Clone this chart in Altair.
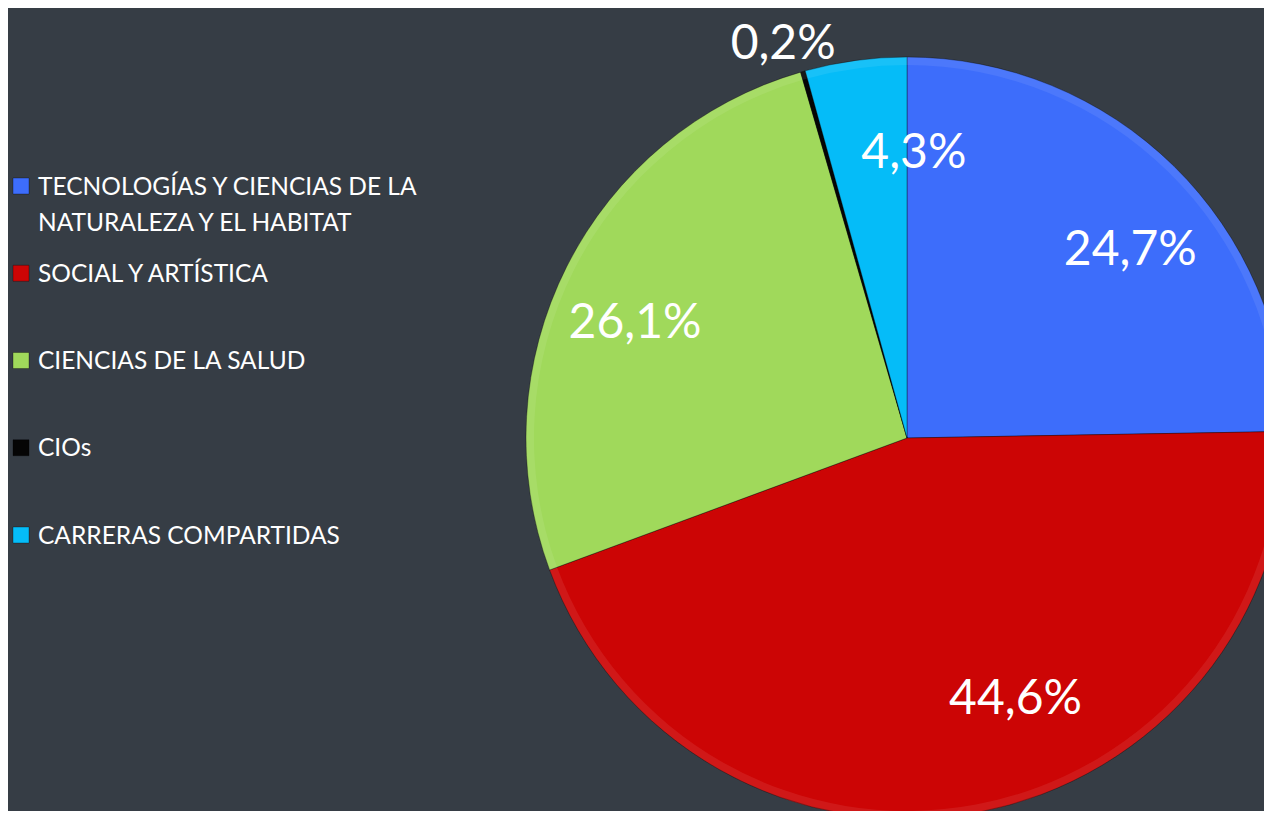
import altair as alt
import pandas as pd

categories = [
    "TECNOLOGÍAS Y CIENCIAS DE LA NATURALEZA Y EL HABITAT",
    "SOCIAL Y ARTÍSTICA",
    "CIENCIAS DE LA SALUD",
    "CIOs",
    "CARRERAS COMPARTIDAS",
]
legend_text = [
    "TECNOLOGÍAS Y CIENCIAS DE LA\nNATURALEZA Y EL HABITAT",
    "SOCIAL Y ARTÍSTICA",
    "CIENCIAS DE LA SALUD",
    "CIOs",
    "CARRERAS COMPARTIDAS",
]
values = [24.7, 44.6, 26.1, 0.2, 4.3]
value_labels = ["24,7%", "44,6%", "26,1%", "0,2%", "4,3%"]
colors = ["#3d6dfb", "#cc0505", "#a0d95b", "#050505", "#05bcf8"]

# label placement style (pixel nudges and radius per slice, Excel "best fit")
label_style = {
    "TECNOLOGÍAS Y CIENCIAS DE LA NATURALEZA Y EL HABITAT": dict(r=290, dx=20, dy=20),
    "SOCIAL Y ARTÍSTICA": dict(r=290, dx=55, dy=-23),
    "CIENCIAS DE LA SALUD": dict(r=290, dx=-13, dy=17),
    "CIOs": dict(r=413, dx=-11, dy=4),
    "CARRERAS COMPARTIDAS": dict(r=290, dx=46, dy=3),
}

BG = "#363d45"
FONT = "Lato"
TOTAL = sum(values)

df = pd.DataFrame({
    "cat": categories,
    "legend": legend_text,
    "value": values,
    "label": value_labels,
    "idx": list(range(len(categories))),
})

CX, CY, R = 899, 430, 381

color = alt.Color("cat:N", scale=alt.Scale(domain=categories, range=colors), legend=None)
theta_scale = alt.Scale(domain=[0, TOTAL])

base = alt.Chart(df)

pie = base.mark_arc(radius=R, stroke="#000000", strokeOpacity=0.35, strokeWidth=1).encode(
    theta=alt.Theta("value:Q", stack=True, scale=theta_scale),
    color=color,
    order=alt.Order("idx:Q"),
    x=alt.value(CX),
    y=alt.value(CY),
)

bevel = base.mark_arc(radius=R, radius2=R - 8, color="#ffffff", opacity=0.08).encode(
    theta=alt.Theta("value:Q", stack=True, scale=theta_scale),
    order=alt.Order("idx:Q"),
    x=alt.value(CX),
    y=alt.value(CY),
)

mid = base.transform_window(
    cum="sum(value)", sort=[alt.SortField("idx")], frame=[None, 0]
).transform_calculate(mid="datum.cum - datum.value / 2")

label_layers = []
for cat in categories:
    st = label_style[cat]
    label_layers.append(
        mid.transform_filter(alt.datum.cat == cat).mark_text(
            radius=st["r"], dx=st["dx"], dy=st["dy"], font=FONT, fontSize=48,
            color="white", align="center", baseline="middle"
        ).encode(
            theta=alt.Theta("mid:Q", scale=theta_scale),
            text="label:N",
            x=alt.value(CX),
            y=alt.value(CY),
        )
    )

ypos = alt.Y("cat:N", scale=alt.Scale(domain=categories, range=[178, 527], type="point", padding=0), axis=None)

leg_sym = base.mark_square(size=256, opacity=1, stroke="#000000", strokeOpacity=0.3, strokeWidth=1).encode(
    x=alt.value(13),
    y=ypos,
    color=color,
)

leg_txt = base.mark_text(
    font=FONT, fontSize=24.5, color="white", align="left", baseline="alphabetic",
    lineBreak="\n", lineHeight=36, dy=8.5
).encode(
    x=alt.value(30),
    y=ypos,
    text="legend:N",
)

chart = alt.layer(pie, bevel, *label_layers, leg_sym, leg_txt).properties(
    width=1256, height=803, padding=0, autosize=alt.AutoSizeParams(type="none"),
    background=BG,
).configure_view(stroke=None)

chart.save("out.html", embed_options={"renderer": "svg", "actions": False})
